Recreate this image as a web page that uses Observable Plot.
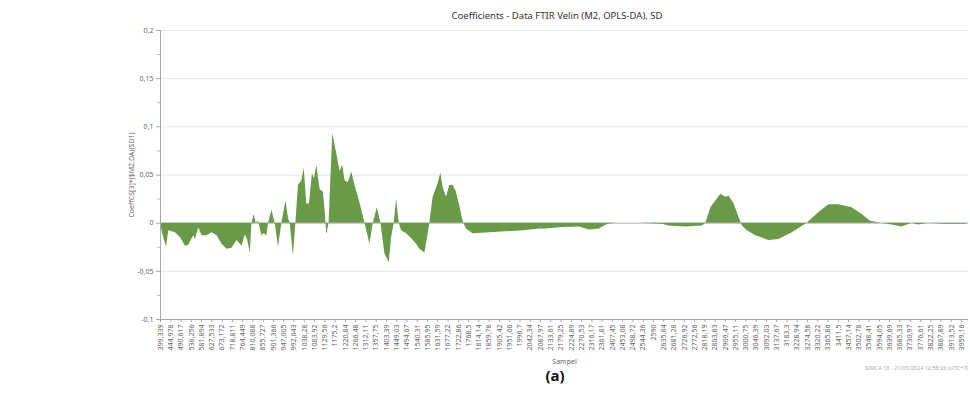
<!DOCTYPE html>
<html><head><meta charset="utf-8">
<script src="https://cdn.jsdelivr.net/npm/d3@7"></script>
<script src="https://cdn.jsdelivr.net/npm/@observablehq/plot@0.6"></script>
<style>
body{margin:0;background:#fff;font-family:"Noto Sans",sans-serif;}
#wrap{position:relative;width:970px;height:400px;overflow:hidden;}
#title{position:absolute;left:0;top:9px;width:970px;padding-left:144px;box-sizing:border-box;text-align:center;font-size:9.5px;color:#333;}
#chart{position:absolute;left:0;top:24px;}
#foot{position:absolute;right:2px;top:364px;font-size:5.5px;color:#aaa;}
#cap{position:absolute;left:0;top:365px;width:970px;padding-left:140px;box-sizing:border-box;text-align:center;font-size:15px;font-weight:bold;font-family:"Open Sans",sans-serif;color:#111;}
</style></head><body>
<div id="wrap">
<div id="title">Coefficients - Data FTIR Velin (M2, OPLS-DA), SD</div>
<div id="chart"></div>
<div id="foot">SIMCA 18 - 21/05/2024 12:58:26 (UTC+7)</div>
<div id="cap">(a)</div>
</div>
<script>
const wavenumbers = [399.3,410,425.9,436.1,450,465.8,488,510.2,524.8,547,554.5,569.1,584.2,606.4,628.5,650.7,672.9,695,717.2,739.4,761.5,776.1,787.2,798.3,805.8,816,824.9,835.1,850.2,860.4,872.3,879.4,894.5,909.1,923.7,938.8,956.5,968.1,975.6,990.3,1000.9,1012.4,1027.5,1037.7,1049.6,1061.2,1074.5,1083.4,1094,1108.6,1123.3,1130.8,1138.3,1148.5,1164.9,1182.6,1197.3,1209.2,1219.4,1234,1249.1,1263.7,1285.9,1308.1,1330.2,1344.9,1362.6,1379,1396.7,1415.8,1426.4,1437.9,1448.6,1460.1,1470.7,1492.9,1515.1,1537.2,1551.9,1574,1584.2,1596.2,1610.8,1633,1645,1655.2,1670.2,1684.8,1699.5,1714.6,1729.2,1743.8,1758.9,1788.2,1862.2,1936.2,2010,2083.9,2113.6,2187.2,2261.2,2305.5,2349.9,2386.7,2425.2,2527.2,2629.1,2660.2,2734.2,2807.8,2822.8,2845,2867.2,2889.3,2911.5,2926.2,2948.3,2970.5,2985.1,3007.3,3044.5,3103.5,3147.8,3206.8,3273.3,3325.2,3369.5,3413.8,3472.8,3517.1,3554.4,3605.8,3650.1,3694.5,3738.8,3768.5,3812.8,3886.9,3975.5,3988];
const coefficients = [0,-0.012,-0.025,-0.008,-0.009,-0.010,-0.015,-0.024,-0.023,-0.013,-0.017,-0.005,-0.013,-0.013,-0.010,-0.013,-0.022,-0.027,-0.026,-0.018,-0.024,-0.012,-0.018,-0.031,0,0.009,0,0.002,-0.013,-0.011,-0.013,0,0.0135,0,-0.025,0,0.023,0.005,0,-0.034,0,0.039,0.044,0.057,0.020,0.020,0.051,0.046,0.060,0.035,0.032,0.013,-0.012,0,0.093,0.072,0.054,0.060,0.044,0.042,0.053,0.039,0.021,0,-0.022,0,0.016,0,-0.032,-0.041,-0.015,0,0.025,0,-0.008,-0.011,-0.016,-0.022,-0.027,-0.031,-0.018,0,0.027,0.041,0.052,0.037,0.027,0.039,0.039,0.032,0.018,0.002,-0.006,-0.011,-0.010,-0.009,-0.008,-0.006,-0.006,-0.0045,-0.004,-0.007,-0.006,-0.001,0,0,-0.001,-0.003,-0.004,-0.003,0,0.016,0.023,0.030,0.027,0.028,0.020,0.006,-0.003,-0.008,-0.013,-0.018,-0.017,-0.010,0,0.011,0.019,0.019,0.016,0.009,0.002,0,-0.002,-0.004,0,-0.002,0,-0.001,-0.001,0];
const xTickLabels = ["399,339","444,978","490,617","536,256","581,894","627,533","673,172","718,811","764,449","810,088","855,727","901,366","947,005","992,643","1038,28","1083,92","1129,56","1175,2","1220,84","1266,48","1312,11","1357,75","1403,39","1449,03","1494,67","1540,31","1585,95","1631,59","1677,22","1722,86","1768,5","1814,14","1859,78","1905,42","1951,06","1996,7","2042,34","2087,97","2133,61","2179,25","2224,89","2270,53","2316,17","2361,81","2407,45","2453,08","2498,72","2544,36","2590","2635,64","2681,28","2726,92","2772,56","2818,19","2863,83","2909,47","2955,11","3000,75","3046,39","3092,03","3137,67","3183,3","3228,94","3274,58","3320,22","3365,86","3411,5","3457,14","3502,78","3548,41","3594,05","3639,69","3685,33","3730,97","3776,61","3822,25","3867,89","3913,52","3959,16"];
const yTickValues = [-0.1,-0.05,0,0.05,0.1,0.15,0.2];
const yTickLabels = ["-0,1","-0,05","0","0,05","0,1","0,15","0,2"];
const yMinorTicks = [-0.075,-0.025,0.025,0.075,0.125,0.175];
const xDomain = [399.339, 3990];

const data = wavenumbers.map((w,i)=>({wn:w, c:coefficients[i]}));
const xTickValues = xTickLabels.map(s=>+s.replace(",", "."));
const xLab = new Map(xTickValues.map((v,i)=>[v, xTickLabels[i]]));
const yLab = new Map(yTickValues.map((v,i)=>[v, yTickLabels[i]]));

const chart = Plot.plot({
  width: 970, height: 345,
  marginLeft: 160, marginRight: 2, marginTop: 6, marginBottom: 50,
  style: {fontFamily: "Noto Sans", fontSize: "7px", color: "#666", background: "transparent"},
  x: {domain: xDomain},
  y: {domain: [-0.1, 0.2]},
  marks: [
    Plot.ruleY(yTickValues.filter(v=>v>-0.1), {stroke: "#e6e6e6", strokeWidth: 1}),
    Plot.ruleY([0], {stroke: "#bbbbbb", strokeWidth: 1}),
    Plot.areaY(data, {x: "wn", y: "c", fill: "#689a47", curve: "linear"}),
    Plot.ruleX([xDomain[0]], {stroke: "#a8a8a8", strokeWidth: 1}),
    Plot.ruleY([-0.1], {stroke: "#a8a8a8", strokeWidth: 1}),
    Plot.axisY({ticks: yTickValues, tickFormat: d=>yLab.get(d), tickSize: 4, tickPadding: 3, stroke: "#a8a8a8", fontSize: 7, label: "CoeffCS[3]*($M2.DA)(SD1)", labelAnchor: "center", labelOffset: 31, labelArrow: "none"}),
    Plot.axisY({ticks: yMinorTicks, tickFormat: () => "", tickSize: 3, stroke: "#bbbbbb", label: null}),
    Plot.axisX({ticks: xTickValues, tickFormat: d=>xLab.get(d), tickRotate: -90, tickSize: 3, tickPadding: 2, stroke: "#a8a8a8", fontSize: 7, label: "Sampel", labelAnchor: "center", labelOffset: 44, labelArrow: "none"})
  ]
});
document.getElementById("chart").appendChild(chart);
</script>
</body></html>
